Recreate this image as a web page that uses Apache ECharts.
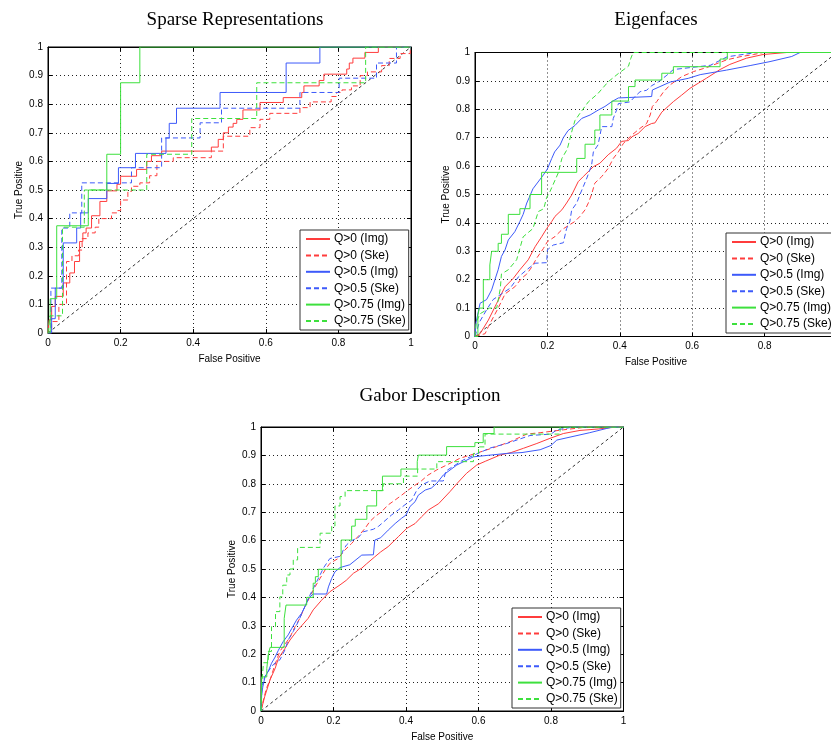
<!DOCTYPE html>
<html><head><meta charset="utf-8">
<script src="https://cdn.jsdelivr.net/npm/echarts@6/dist/echarts.min.js"></script>
<style>html,body{margin:0;padding:0;background:#fff}#c{width:831px;height:746px}</style>
</head><body><div id="c"></div>
<script>
// ---------- DATA ----------
const titles = ['Sparse Representations', 'Eigenfaces', 'Gabor Description'];
const seriesNames = ['Q>0 (Img)', 'Q>0 (Ske)', 'Q>0.5 (Img)', 'Q>0.5 (Ske)', 'Q>0.75 (Img)', 'Q>0.75 (Ske)'];
const xAxisName = 'False Positive';
const yAxisName = 'True Positive';
const diagonal = [[0, 0], [1, 1]];

// Sparse Representations
const sr_q0_img = [[0,0],[0.003,0.046],[0.01,0.093],[0.02,0.128],[0.042,0.175],[0.06,0.21],[0.073,0.25],[0.087,0.32],[0.096,0.35],[0.105,0.367],[0.12,0.41],[0.143,0.46],[0.162,0.497],[0.19,0.52],[0.2,0.548],[0.244,0.572],[0.272,0.6],[0.285,0.62],[0.313,0.636],[0.45,0.65],[0.469,0.677],[0.483,0.7],[0.497,0.72],[0.51,0.733],[0.52,0.747],[0.537,0.78],[0.584,0.806],[0.648,0.823],[0.699,0.841],[0.705,0.864],[0.747,0.883],[0.76,0.905],[0.823,0.923],[0.83,0.944],[0.84,0.961],[0.873,0.981],[0.91,1],[1,1]];
const sr_q0_ske = [[0,0],[0.01,0.04],[0.03,0.1],[0.051,0.25],[0.066,0.27],[0.084,0.29],[0.094,0.33],[0.11,0.35],[0.13,0.37],[0.14,0.4],[0.175,0.42],[0.19,0.428],[0.2,0.465],[0.22,0.495],[0.23,0.513],[0.253,0.525],[0.28,0.55],[0.3,0.6],[0.345,0.613],[0.45,0.636],[0.483,0.688],[0.556,0.718],[0.584,0.747],[0.611,0.768],[0.694,0.788],[0.722,0.808],[0.78,0.827],[0.795,0.841],[0.81,0.85],[0.836,0.864],[0.86,0.9],[0.88,0.913],[0.919,0.935],[0.94,0.96],[0.97,0.977],[0.998,1],[1,1]];
const sr_q05_img = [[0,0],[0.01,0.05],[0.02,0.157],[0.042,0.315],[0.079,0.367],[0.09,0.42],[0.111,0.47],[0.162,0.523],[0.194,0.578],[0.241,0.628],[0.325,0.682],[0.334,0.733],[0.354,0.786],[0.474,0.841],[0.656,0.944],[0.749,1],[1,1]];
const sr_q05_ske = [[0,0],[0.008,0.157],[0.038,0.367],[0.06,0.42],[0.093,0.525],[0.23,0.578],[0.313,0.682],[0.419,0.735],[0.478,0.786],[0.694,0.841],[0.802,0.891],[0.905,0.944],[0.96,1],[1,1]];
const sr_q075_img = [[0,0],[0.006,0.12],[0.024,0.375],[0.111,0.5],[0.162,0.625],[0.2,0.875],[0.253,1],[1,1]];
const sr_q075_ske = [[0,0],[0.005,0.06],[0.04,0.37],[0.1,0.5],[0.272,0.625],[0.396,0.75],[0.575,0.875],[0.875,1],[1,1]];

// Eigenfaces
const ef_q0_img = [[0,0],[0.014,0.01],[0.037,0.058],[0.06,0.117],[0.083,0.175],[0.106,0.205],[0.124,0.235],[0.147,0.27],[0.166,0.316],[0.184,0.351],[0.198,0.38],[0.212,0.405],[0.221,0.423],[0.24,0.446],[0.253,0.47],[0.267,0.498],[0.285,0.545],[0.299,0.563],[0.327,0.598],[0.345,0.61],[0.368,0.64],[0.391,0.663],[0.405,0.687],[0.424,0.69],[0.433,0.703],[0.451,0.715],[0.47,0.739],[0.488,0.75],[0.497,0.752],[0.516,0.79],[0.548,0.827],[0.571,0.85],[0.594,0.874],[0.617,0.892],[0.64,0.91],[0.677,0.94],[0.704,0.958],[0.75,0.98],[0.796,0.993],[0.861,1],[1,1]];
const ef_q0_ske = [[0,0],[0.028,0.01],[0.037,0.035],[0.064,0.1],[0.083,0.15],[0.11,0.175],[0.129,0.205],[0.143,0.22],[0.157,0.245],[0.17,0.275],[0.189,0.31],[0.2,0.334],[0.221,0.352],[0.24,0.376],[0.257,0.39],[0.276,0.405],[0.29,0.423],[0.304,0.446],[0.313,0.47],[0.322,0.5],[0.331,0.54],[0.35,0.563],[0.368,0.592],[0.382,0.627],[0.396,0.65],[0.41,0.68],[0.433,0.709],[0.456,0.733],[0.474,0.75],[0.484,0.78],[0.49,0.81],[0.502,0.827],[0.52,0.86],[0.539,0.886],[0.571,0.915],[0.604,0.933],[0.64,0.947],[0.695,0.974],[0.732,0.985],[0.77,0.993],[0.796,1],[1,1]];
const ef_q05_img = [[0,0],[0.003,0.05],[0.014,0.117],[0.032,0.13],[0.046,0.164],[0.055,0.2],[0.064,0.235],[0.073,0.282],[0.083,0.305],[0.092,0.34],[0.11,0.369],[0.124,0.405],[0.133,0.43],[0.143,0.47],[0.15,0.49],[0.16,0.52],[0.189,0.569],[0.2,0.59],[0.212,0.627],[0.22,0.65],[0.235,0.674],[0.244,0.7],[0.257,0.725],[0.276,0.743],[0.295,0.768],[0.318,0.78],[0.34,0.797],[0.359,0.81],[0.378,0.827],[0.396,0.84],[0.488,0.845],[0.49,0.868],[0.511,0.88],[0.539,0.896],[0.589,0.909],[0.622,0.922],[0.695,0.938],[0.76,0.954],[0.815,0.968],[0.875,0.986],[0.898,1],[1,1]];
const ef_q05_ske = [[0,0],[0.012,0.05],[0.032,0.094],[0.05,0.13],[0.073,0.15],[0.097,0.17],[0.12,0.21],[0.143,0.235],[0.166,0.258],[0.198,0.26],[0.2,0.305],[0.216,0.322],[0.244,0.33],[0.253,0.38],[0.262,0.405],[0.267,0.445],[0.281,0.47],[0.29,0.5],[0.309,0.558],[0.322,0.603],[0.327,0.65],[0.34,0.675],[0.35,0.739],[0.378,0.739],[0.382,0.768],[0.391,0.797],[0.396,0.82],[0.428,0.826],[0.442,0.845],[0.456,0.862],[0.474,0.867],[0.488,0.883],[0.507,0.897],[0.53,0.92],[0.548,0.94],[0.65,0.955],[0.697,0.985],[0.778,1],[1,1]];
const ef_q075_img = [[0,0],[0.008,0.076],[0.012,0.1],[0.023,0.2],[0.041,0.252],[0.046,0.3],[0.064,0.328],[0.073,0.36],[0.092,0.43],[0.124,0.45],[0.152,0.5],[0.184,0.578],[0.281,0.627],[0.304,0.677],[0.331,0.727],[0.345,0.78],[0.378,0.829],[0.424,0.88],[0.442,0.903],[0.516,0.927],[0.548,0.95],[0.677,0.977],[0.697,1],[1,1]];
const ef_q075_ske = [[0,0],[0.003,0.05],[0.014,0.08],[0.04,0.1],[0.06,0.1],[0.07,0.17],[0.073,0.22],[0.092,0.235],[0.115,0.27],[0.133,0.351],[0.16,0.38],[0.175,0.44],[0.19,0.45],[0.198,0.49],[0.207,0.51],[0.23,0.576],[0.24,0.627],[0.255,0.66],[0.267,0.72],[0.276,0.76],[0.29,0.786],[0.313,0.826],[0.34,0.856],[0.368,0.897],[0.396,0.926],[0.424,0.952],[0.43,0.978],[0.437,1],[1,1]];

// Gabor Description
const gd_q0_img = [[0,0],[0.01,0.05],[0.025,0.11],[0.039,0.15],[0.048,0.185],[0.066,0.22],[0.08,0.25],[0.098,0.28],[0.112,0.3],[0.13,0.326],[0.144,0.356],[0.167,0.39],[0.19,0.42],[0.218,0.444],[0.235,0.46],[0.255,0.485],[0.278,0.503],[0.291,0.518],[0.314,0.543],[0.33,0.56],[0.351,0.579],[0.379,0.614],[0.402,0.643],[0.425,0.66],[0.443,0.684],[0.462,0.708],[0.49,0.73],[0.521,0.772],[0.54,0.8],[0.567,0.837],[0.595,0.866],[0.62,0.88],[0.659,0.901],[0.69,0.91],[0.724,0.925],[0.761,0.942],[0.797,0.96],[0.834,0.977],[0.88,0.988],[0.93,0.993],[0.981,1],[1,1]];
const gd_q0_ske = [[0,0],[0.005,0.03],[0.015,0.08],[0.025,0.11],[0.039,0.165],[0.052,0.21],[0.066,0.235],[0.08,0.26],[0.094,0.297],[0.107,0.326],[0.121,0.367],[0.135,0.402],[0.149,0.437],[0.163,0.467],[0.177,0.497],[0.19,0.52],[0.213,0.537],[0.23,0.565],[0.25,0.59],[0.268,0.615],[0.287,0.643],[0.3,0.667],[0.315,0.685],[0.333,0.702],[0.35,0.725],[0.37,0.743],[0.388,0.76],[0.406,0.778],[0.425,0.795],[0.443,0.811],[0.46,0.83],[0.485,0.849],[0.512,0.866],[0.549,0.89],[0.6,0.91],[0.65,0.931],[0.687,0.948],[0.733,0.975],[0.77,0.98],[0.834,0.99],[0.9,1],[1,1]];
const gd_q05_img = [[0,0],[0.002,0.06],[0.005,0.085],[0.011,0.12],[0.02,0.14],[0.029,0.168],[0.039,0.19],[0.048,0.214],[0.061,0.244],[0.075,0.268],[0.085,0.291],[0.098,0.32],[0.112,0.344],[0.121,0.367],[0.131,0.397],[0.144,0.412],[0.181,0.412],[0.186,0.437],[0.195,0.467],[0.204,0.49],[0.218,0.505],[0.245,0.515],[0.278,0.549],[0.31,0.55],[0.314,0.602],[0.33,0.61],[0.351,0.637],[0.37,0.66],[0.388,0.679],[0.4,0.69],[0.411,0.72],[0.425,0.737],[0.434,0.76],[0.453,0.778],[0.47,0.785],[0.485,0.802],[0.503,0.831],[0.54,0.866],[0.586,0.895],[0.678,0.907],[0.72,0.91],[0.77,0.92],[0.8,0.935],[0.816,0.954],[0.907,0.98],[0.954,0.995],[0.97,1],[1,1]];
const gd_q05_ske = [[0,0],[0.003,0.09],[0.01,0.12],[0.02,0.14],[0.035,0.165],[0.052,0.18],[0.066,0.215],[0.075,0.25],[0.089,0.28],[0.103,0.315],[0.117,0.356],[0.135,0.408],[0.149,0.444],[0.163,0.479],[0.172,0.503],[0.181,0.52],[0.19,0.537],[0.22,0.545],[0.227,0.567],[0.236,0.585],[0.25,0.6],[0.268,0.61],[0.282,0.631],[0.31,0.64],[0.324,0.65],[0.342,0.67],[0.36,0.69],[0.379,0.708],[0.397,0.726],[0.416,0.743],[0.43,0.778],[0.444,0.796],[0.466,0.81],[0.503,0.81],[0.51,0.845],[0.558,0.884],[0.632,0.926],[0.678,0.942],[0.742,0.97],[0.8,0.975],[0.816,0.99],[0.862,1],[1,1]];
const gd_q075_img = [[0,0],[0.002,0.12],[0.016,0.15],[0.02,0.197],[0.025,0.224],[0.064,0.326],[0.069,0.373],[0.126,0.4],[0.144,0.45],[0.15,0.473],[0.158,0.499],[0.221,0.602],[0.25,0.651],[0.26,0.675],[0.292,0.722],[0.319,0.776],[0.335,0.827],[0.386,0.852],[0.431,0.878],[0.434,0.901],[0.512,0.931],[0.59,0.945],[0.613,0.977],[0.643,1],[1,1]];
const gd_q075_ske = [[0,0],[0.002,0.1],[0.007,0.17],[0.02,0.21],[0.029,0.297],[0.04,0.35],[0.052,0.402],[0.06,0.443],[0.071,0.479],[0.08,0.5],[0.089,0.532],[0.101,0.576],[0.163,0.626],[0.195,0.651],[0.204,0.722],[0.218,0.755],[0.232,0.776],[0.337,0.8],[0.393,0.827],[0.432,0.852],[0.485,0.878],[0.586,0.907],[0.6,0.93],[0.618,0.975],[0.825,1],[1,1]];

// ---------- CHART ----------
const FONT = 'Liberation Sans';
const colors = ['#ff3c3c', '#ff3c3c', '#3d5afa', '#3d5afa', '#3de03d', '#3de03d'];
const dashes = ['solid', [5, 3], 'solid', [5, 3], 'solid', [5, 3]];

const grids = [
  {left: 48, top: 47, width: 363, height: 286},
  {left: 475, top: 52.5, width: 362, height: 284},
  {left: 261, top: 427, width: 362.5, height: 284}
];
const titlePos = [{x: 230, y: 6}, {x: 651, y: 6}, {x: 425, y: 382}];
const legendPos = [{left: 300, top: 230}, {left: 726, top: 233}, {left: 512, top: 608}];

const dataSets = [
  [sr_q0_img, sr_q0_ske, sr_q05_img, sr_q05_ske, sr_q075_img, sr_q075_ske],
  [ef_q0_img, ef_q0_ske, ef_q05_img, ef_q05_ske, ef_q075_img, ef_q075_ske],
  [gd_q0_img, gd_q0_ske, gd_q05_img, gd_q05_ske, gd_q075_img, gd_q075_ske]
];
// which series are drawn as staircases
const stepFlags = [
  [true, true, true, true, true, true],
  [false, false, false, false, true, false],
  [false, false, false, false, true, true]
];

const xAxes = [], yAxes = [], series = [], legends = [], titleArr = [];
grids.forEach((g, i) => {
  g.show = true; g.borderColor = '#000'; g.borderWidth = 1; g.backgroundColor = '#fff';
  g.outerBoundsMode = 'none'; g.containLabel = false;
  const tick = {show: true, inside: true, length: 4, lineStyle: {color: '#000'}};
  xAxes.push({
    gridIndex: i, type: 'value', min: 0, max: 1, interval: 0.2, position: 'bottom',
    axisLine: {show: true, onZero: false, lineStyle: {color: '#000'}},
    axisTick: tick,
    axisLabel: {fontSize: 10, color: '#000', fontFamily: FONT, margin: 5},
    splitLine: {show: true, lineStyle: {type: [1, 3], color: '#222', width: 1}},
    name: xAxisName, nameLocation: 'middle', nameGap: 21,
    nameTextStyle: {fontSize: 10, color: '#000', fontFamily: FONT}
  });
  xAxes.push({
    gridIndex: i, type: 'value', min: 0, max: 1, interval: 0.2, position: 'top',
    axisLine: {show: true, onZero: false, lineStyle: {color: '#000'}},
    axisTick: tick, axisLabel: {show: false}, splitLine: {show: false}
  });
  yAxes.push({
    gridIndex: i, type: 'value', min: 0, max: 1, interval: 0.1, position: 'left',
    axisLine: {show: true, onZero: false, lineStyle: {color: '#000'}},
    axisTick: tick,
    axisLabel: {fontSize: 10, color: '#000', fontFamily: FONT, margin: 5},
    splitLine: {show: true, lineStyle: {type: [1, 3], color: '#222', width: 1}},
    name: yAxisName, nameLocation: 'middle', nameGap: 24, nameRotate: 90,
    nameTextStyle: {fontSize: 10, color: '#000', fontFamily: FONT}
  });
  yAxes.push({
    gridIndex: i, type: 'value', min: 0, max: 1, interval: 0.1, position: 'right',
    axisLine: {show: true, onZero: false, lineStyle: {color: '#000'}},
    axisTick: tick, axisLabel: {show: false}, splitLine: {show: false}
  });
  series.push({
    name: 'diagonal', type: 'line', xAxisIndex: 2 * i, yAxisIndex: 2 * i,
    data: diagonal, symbol: 'none', silent: true, animation: false,
    lineStyle: {color: '#333', width: 1, type: [3, 3]}, z: 1
  });
  dataSets[i].forEach((d, k) => {
    series.push({
      name: seriesNames[k], type: 'line', xAxisIndex: 2 * i, yAxisIndex: 2 * i,
      data: d, symbol: 'none', animation: false, step: stepFlags[i][k] ? 'end' : false,
      color: colors[k],
      lineStyle: {color: colors[k], width: 1, type: dashes[k]}, z: 2
    });
  });
  legends.push({
    left: legendPos[i].left, top: legendPos[i].top, orient: 'vertical',
    data: seriesNames, selectedMode: false,
    backgroundColor: '#fff', borderColor: '#333', borderWidth: 1,
    padding: [3, 3, 3, 5], itemGap: 4.4, itemWidth: 24, itemHeight: 11.5,
    itemStyle: {opacity: 0},
    textStyle: {fontSize: 12, color: '#000', fontFamily: FONT, padding: [0, 0, 0, -1]}
  });
  titleArr.push({
    text: titles[i], left: titlePos[i].x, top: titlePos[i].y, textAlign: 'center',
    textStyle: {fontFamily: 'Liberation Serif', fontSize: 19, fontWeight: 'normal', color: '#000'}
  });
});

const chart = echarts.init(document.getElementById('c'), null, {renderer: 'canvas'});
chart.setOption({
  animation: false,
  backgroundColor: '#fff',
  title: titleArr,
  grid: grids,
  xAxis: xAxes,
  yAxis: yAxes,
  legend: legends,
  series: series
});
</script>
</body></html>
